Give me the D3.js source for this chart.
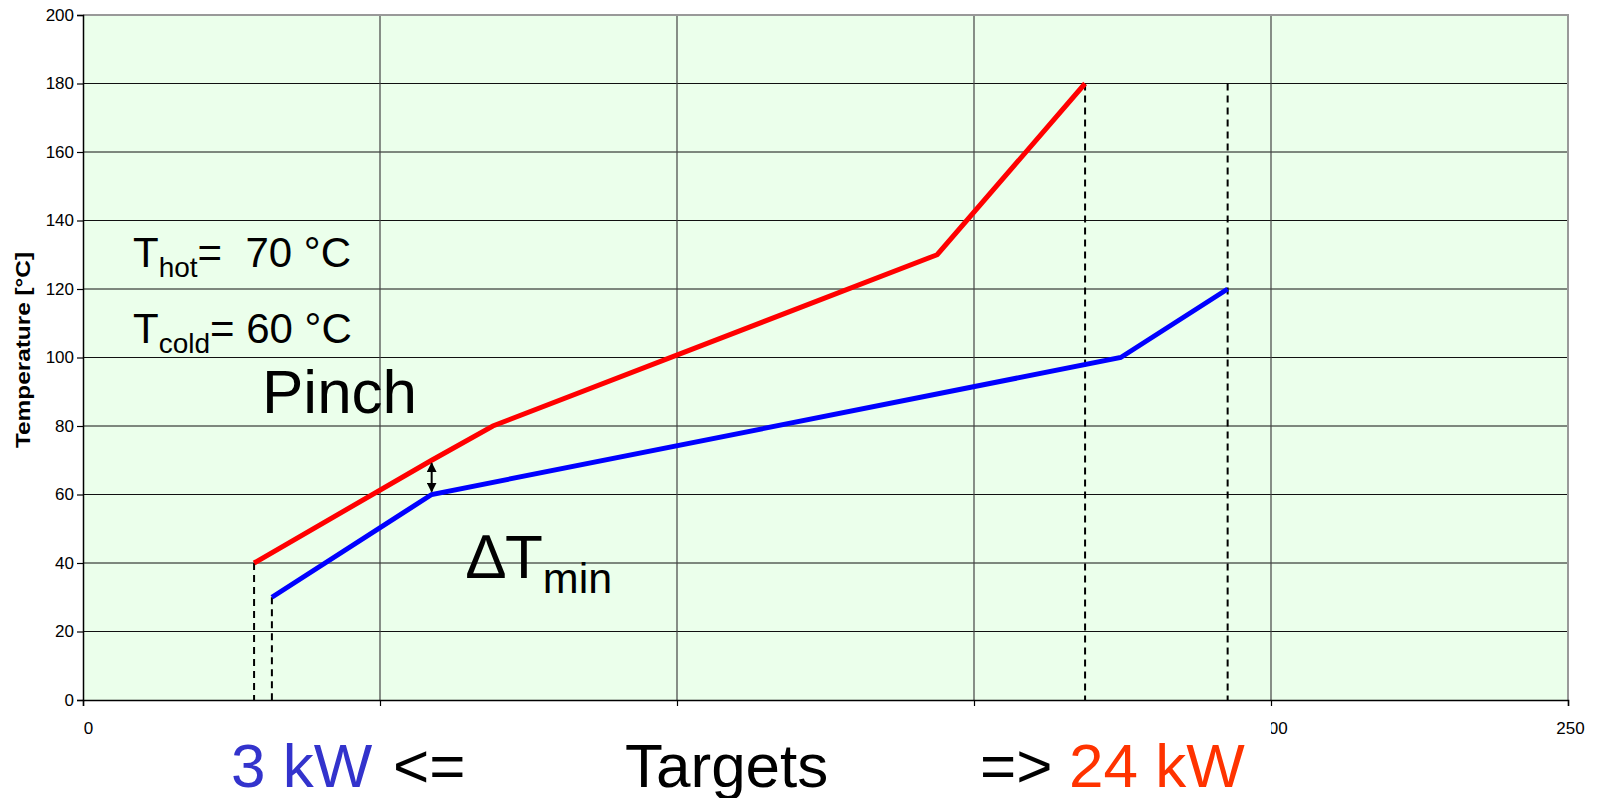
<!DOCTYPE html>
<html>
<head>
<meta charset="utf-8">
<script src="https://cdn.jsdelivr.net/npm/d3@7"></script>
<style>
    body { margin: 0; background: #fff; }
    svg { display: block; font-family: "Liberation Sans", Arial, sans-serif; }
    .big { white-space: pre; }
</style>
</head>
<body>
<svg id="chart" width="1597" height="798"></svg>
<script>
// composite curves (heat flow Q [kW], temperature T [°C])
var hotQ = [28.8, 58.7, 69, 143.8, 168.7];
var hotT = [40, 70, 80, 130, 180];
var coldQ = [31.8, 58.7, 174.7, 192.7];
var coldT = [30, 60, 100, 120];

// dashed target lines: q position, top temperature
var targetQ = [28.8, 31.8, 168.7, 192.7];
var targetTop = [40, 30, 180, 180];

// pinch (delta T min arrow)
var pinchQ = 58.7;
var pinchT = [70, 60];

var xTicks = [0, 50, 100, 150, 200, 250];
var xLabelled = [0, 200, 250]; // the others sit under the white text box
var yTicks = [0, 20, 40, 60, 80, 100, 120, 140, 160, 180, 200];

var cfg = {
    left: 83, right: 1568, top: 15, bottom: 700,
    bg: "#ebffeb"
};

var svg = d3.select("#chart");

var x = d3.scaleLinear().domain([0, 250]).range([cfg.left, cfg.right]);
var y = d3.scaleLinear().domain([0, 200]).range([cfg.bottom, cfg.top]);

// plot background
svg.append("rect")
    .attr("x", cfg.left)
    .attr("y", cfg.top)
    .attr("width", cfg.right - cfg.left)
    .attr("height", cfg.bottom - cfg.top)
    .attr("fill", cfg.bg);

// grid
svg.append("g")
    .selectAll("line")
    .data(yTicks.filter(d => d > 0 && d < 200))
    .join("line")
    .attr("x1", cfg.left).attr("x2", cfg.right)
    .attr("y1", d => y(d)).attr("y2", d => y(d))
    .attr("stroke", "#111").attr("stroke-width", 1);

svg.append("g")
    .selectAll("line")
    .data(xTicks.filter(d => d > 0 && d < 250))
    .join("line")
    .attr("x1", d => x(d)).attr("x2", d => x(d))
    .attr("y1", cfg.top).attr("y2", cfg.bottom)
    .attr("stroke", "#444").attr("stroke-width", 1.2);

// top and right border
svg.append("path")
    .attr("d", `M${cfg.left},${cfg.top}H${cfg.right}V${cfg.bottom}`)
    .attr("fill", "none")
    .attr("stroke", "#999")
    .attr("stroke-width", 2);

// axes
var yAxis = svg.append("g")
    .attr("transform", `translate(${cfg.left},0)`)
    .call(d3.axisLeft(y).tickValues(yTicks).tickSize(6).tickPadding(3));
var xAxis = svg.append("g")
    .attr("transform", `translate(0,${cfg.bottom})`)
    .call(d3.axisBottom(x).tickValues(xTicks).tickSize(6).tickPadding(16)
        .tickFormat(d => xLabelled.includes(d) ? d : ""));

for (let ax of [yAxis, xAxis]) {
    ax.select(".domain").attr("stroke", "#000").attr("stroke-width", 1.5);
    ax.selectAll(".tick line").attr("stroke", "#000").attr("stroke-width", 1.2);
    ax.selectAll(".tick text")
        .attr("font-size", "17px")
        .attr("font-family", "Liberation Sans, Arial, sans-serif")
        .attr("fill", "#000");
}
xAxis.selectAll(".tick text").attr("dx", d => d === 0 ? 5 : 2);

// y axis title
svg.append("text")
    .attr("transform", "translate(30,350) rotate(-90)")
    .attr("text-anchor", "middle")
    .attr("font-size", "21px")
    .attr("font-weight", "bold")
    .attr("textLength", 196)
    .attr("lengthAdjust", "spacingAndGlyphs")
    .text("Temperature [°C]");

// dashed target lines
svg.append("g")
    .selectAll("line")
    .data(targetQ)
    .join("line")
    .attr("x1", d => x(d)).attr("x2", d => x(d))
    .attr("y1", (d, i) => y(targetTop[i])).attr("y2", y(0))
    .attr("stroke", "#000")
    .attr("stroke-width", 2)
    .attr("stroke-dasharray", "7,5");

// composite curves
var line = d3.line().x(d => x(d[0])).y(d => y(d[1]));
svg.append("path")
    .attr("d", line(d3.zip(hotQ, hotT)))
    .attr("fill", "none")
    .attr("stroke", "#ff0000")
    .attr("stroke-width", 5);
svg.append("path")
    .attr("d", line(d3.zip(coldQ, coldT)))
    .attr("fill", "none")
    .attr("stroke", "#0000ff")
    .attr("stroke-width", 5);

// pinch arrow
svg.append("defs").append("marker")
    .attr("id", "head")
    .attr("viewBox", "0 0 10 10")
    .attr("refX", 9).attr("refY", 5)
    .attr("markerWidth", 5).attr("markerHeight", 5)
    .attr("orient", "auto-start-reverse")
    .append("path")
    .attr("d", "M0,0L10,5L0,10Z")
    .attr("fill", "#000");
svg.append("line")
    .attr("x1", x(pinchQ)).attr("x2", x(pinchQ))
    .attr("y1", y(pinchT[0]) + 3).attr("y2", y(pinchT[1]) - 3)
    .attr("stroke", "#000")
    .attr("stroke-width", 2)
    .attr("marker-start", "url(#head)")
    .attr("marker-end", "url(#head)");

// annotations
function subText(xp, yp, main, sub, rest, size, subSize, shift) {
    var t = svg.append("text")
        .attr("class", "big")
        .attr("x", xp).attr("y", yp)
        .attr("font-size", size + "px");
    t.append("tspan").text(main);
    t.append("tspan").attr("font-size", subSize + "px").attr("dy", shift).text(sub);
    t.append("tspan").attr("dy", -shift).text(rest);
}
subText(133, 267, "T", "hot", "=  70 °C", 42, 28, 10);
subText(133, 343, "T", "cold", "= 60 °C", 42, 28, 10);
subText(467, 578, "\u2206T", "min", "", 62, 43, 15);

svg.append("text")
    .attr("x", 262).attr("y", 413)
    .attr("font-size", "62px")
    .text("Pinch");

// white box hiding the middle x tick labels
svg.append("rect")
    .attr("x", 200).attr("y", 708)
    .attr("width", 1071).attr("height", 90)
    .attr("fill", "#fff");

var bottomText = [
    { x: 231, text: "3 kW", color: "#3333cc" },
    { x: 393, text: "<=", color: "#000" },
    { x: 625, text: "Targets", color: "#000" },
    { x: 980, text: "=>", color: "#000" },
    { x: 1069, text: "24 kW", color: "#ff3300" }
];
svg.append("g")
    .selectAll("text")
    .data(bottomText)
    .join("text")
    .attr("x", d => d.x)
    .attr("y", 787)
    .attr("font-size", "62px")
    .attr("fill", d => d.color)
    .text(d => d.text);
</script>
</body>
</html>
